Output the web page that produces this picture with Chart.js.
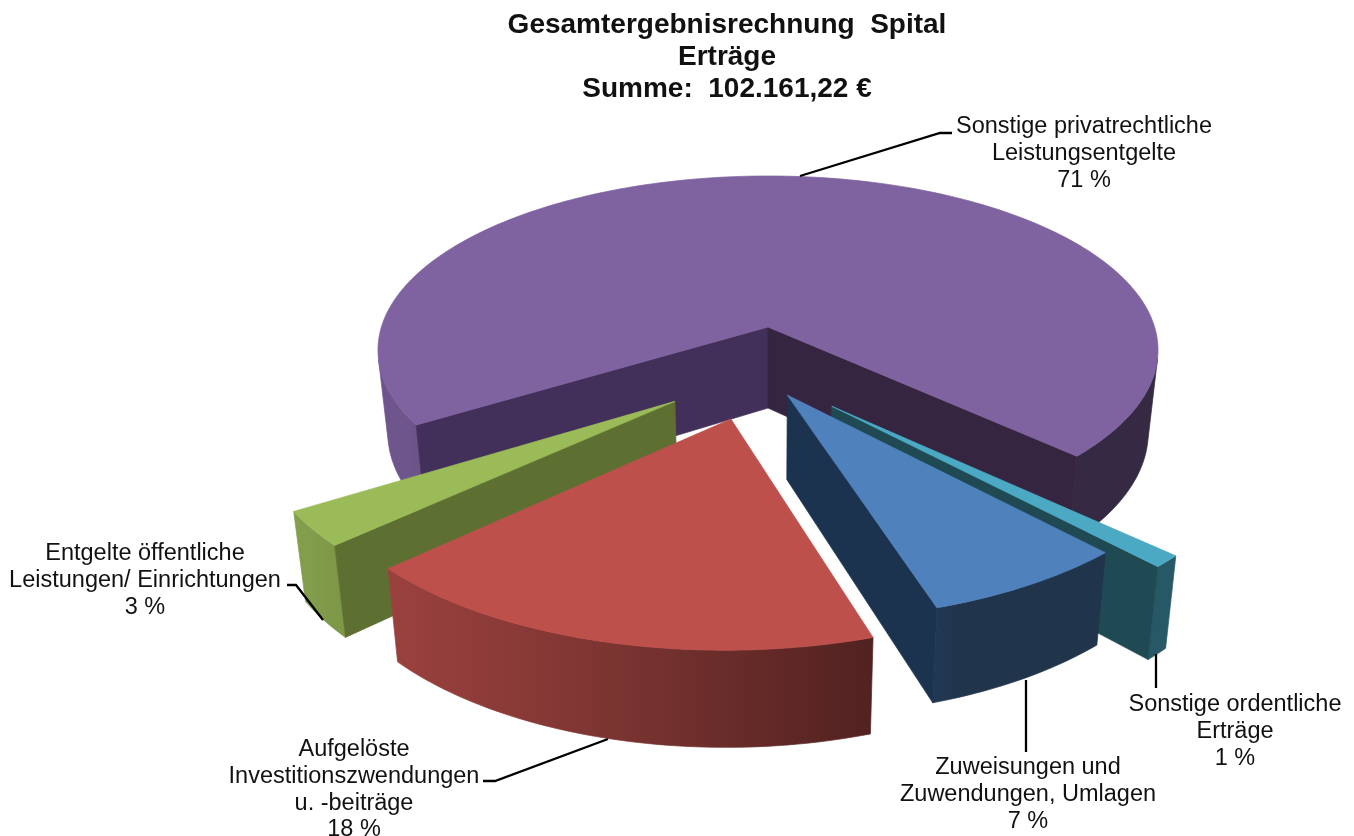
<!DOCTYPE html>
<html>
<head>
<meta charset="utf-8">
<title>Gesamtergebnisrechnung Spital</title>
<script src="https://cdn.jsdelivr.net/npm/chart.js@4/dist/chart.umd.min.js"></script>
<style>
  html, body { margin: 0; padding: 0; background: #fff; }
  #wrap { width: 1354px; height: 836px; }
</style>
</head>
<body>
<div id="wrap"><canvas id="pieChart"></canvas></div>
<script>
var titleLines = ["Gesamtergebnisrechnung  Spital", "Erträge", "Summe:  102.161,22 €"];
var categories = [
  "Sonstige privatrechtliche Leistungsentgelte",
  "Sonstige ordentliche Erträge",
  "Zuweisungen und Zuwendungen, Umlagen",
  "Aufgelöste Investitionszwendungen u. -beiträge",
  "Entgelte öffentliche Leistungen/ Einrichtungen"
];
var shares = [71, 1, 7, 18, 3];

// styles per slice
var topColors = ["#7F62A0", "#4BA9C4", "#4F81BD", "#BE504C", "#9BBB59"];
var wallStart = ["#42305A", "#1F4A54", "#1F3552", "#6E2A28", "#5E7031"];
var wallEnd = ["#362540", "#1F4A54", "#1C3350", "#521B18", "#5E7031"];
var rimFloor = [0.42, 0.52, 0.4, 0.43, 0.4]; // darkest shade of the outer wall
var rimScale = [1, 1.02, 1.02, 1.01, 1];
var explode = [25.6, 25.6, 14.3, 25.6, 25.6]; // hundredths of the radius

// the tilted view of the pie: a projection of the unit disc on the screen
var view = { x: 768, y: 327, a: 386.6, b: 171, k: 0.132, shiftU: -0.025, shiftV: 0.255, depth: 81 };

function project(u, v) {
  var w = 1 - view.k * v;
  return { x: view.x + view.a * u / w, y: view.y + view.b * v / w };
}

function below(p) {
  return {
    x: view.x + (p.x - view.x) * 0.975,
    y: p.y + view.depth + (p.y - view.y) * 0.05
  };
}

function shade(hex, f) {
  var n = parseInt(hex.slice(1), 16);
  var r = Math.round((n >> 16) * f);
  var g = Math.round(((n >> 8) & 255) * f);
  var b = Math.round((n & 255) * f);
  return "rgb(" + r + "," + g + "," + b + ")";
}

function fillPoly(ctx, pts, color) {
  ctx.beginPath();
  ctx.moveTo(pts[0].x, pts[0].y);
  for (var i = 1; i < pts.length; i++) ctx.lineTo(pts[i].x, pts[i].y);
  ctx.closePath();
  ctx.fillStyle = color;
  ctx.strokeStyle = color;
  ctx.lineWidth = 0.7;
  ctx.fill();
  ctx.stroke();
}

// only the faces turned to the viewer are drawn
function faces(p1, p2) {
  var q = [p1, p2, below(p2), below(p1)];
  var area = 0;
  for (var i = 0; i < 4; i++) {
    var a = q[i], b = q[(i + 1) % 4];
    area += a.x * b.y - b.x * a.y;
  }
  return area < 0;
}

function wall(ctx, p1, p2, color) {
  if (faces(p1, p2)) fillPoly(ctx, [p1, p2, below(p2), below(p1)], color);
}

// one stretch of the outer wall, shaded along x
function rimRun(ctx, run, i) {
  var first = run[0].p.x, last = run[run.length - 1].p.x;
  if (first == last) return;
  var grad = ctx.createLinearGradient(first, 0, last, 0);
  var pts = [];
  run.forEach(function(r, n) {
    var f = Math.max(rimFloor[i], Math.min(0.87, 0.54 - 0.37 * Math.cos(r.t)));
    grad.addColorStop(n / (run.length - 1), shade(topColors[i], f));
    pts.push(r.p);
  });
  for (var n = run.length - 1; n >= 0; n--) pts.push(below(run[n].p));
  fillPoly(ctx, pts, grad);
}

function drawSlice(ctx, el, i) {
  var start = el.startAngle, end = el.endAngle, mid = (start + end) / 2;
  var d = el.options.offset / 100;
  var cu = view.shiftU + d * Math.cos(mid);
  var cv = view.shiftV + d * Math.sin(mid);
  var apex = project(cu, cv);
  var steps = Math.max(4, Math.ceil((end - start) / 0.02));
  var rim = [], angles = [];
  for (var s = 0; s <= steps; s++) {
    var t = start + (end - start) * s / steps;
    angles.push(t);
    rim.push(project(cu + rimScale[i] * Math.cos(t), cv + rimScale[i] * Math.sin(t)));
  }
  var run = [];
  for (s = 0; s < steps; s++) {
    if (faces(rim[s], rim[s + 1])) {
      if (!run.length) run.push({ p: rim[s], t: angles[s] });
      run.push({ p: rim[s + 1], t: angles[s + 1] });
    } else if (run.length) {
      rimRun(ctx, run, i);
      run = [];
    }
  }
  if (run.length) rimRun(ctx, run, i);
  wall(ctx, apex, rim[0], wallStart[i]);
  wall(ctx, rim[steps], apex, wallEnd[i]);
  fillPoly(ctx, [apex].concat(rim), topColors[i]);
}

var pie3d = {
  id: "pie3d",
  beforeDatasetDraw: function(chart, args) {
    var ctx = chart.ctx;
    var arcs = args.meta.data;
    var order = arcs.map(function(el, i) { return i; });
    order.sort(function(a, b) {
      return Math.sin((arcs[a].startAngle + arcs[a].endAngle) / 2) -
             Math.sin((arcs[b].startAngle + arcs[b].endAngle) / 2);
    });
    ctx.save();
    order.forEach(function(i) { drawSlice(ctx, arcs[i], i); });
    ctx.restore();
    return false;
  }
};

// labels and leader lines
var labelLines = [
  { x: 1084, y: 127, text: ["Sonstige privatrechtliche", "Leistungsentgelte", "71 %"] },
  { x: 1235, y: 705, text: ["Sonstige ordentliche", "Erträge", "1 %"] },
  { x: 1028, y: 768, text: ["Zuweisungen und", "Zuwendungen, Umlagen", "7 %"] },
  { x: 354, y: 750, text: ["Aufgelöste", "Investitionszwendungen", "u. -beiträge", "18 %"] },
  { x: 145, y: 554, text: ["Entgelte öffentliche", "Leistungen/ Einrichtungen", "3 %"] }
];
var leaders = [
  [[952, 133], [940, 133], [800, 176]],
  [[1156, 654], [1156, 688]],
  [[1026, 680], [1026, 752]],
  [[483, 781], [495, 781], [608, 739]],
  [[287, 585], [296, 585], [323, 620]]
];

var pieLabels = {
  id: "pieLabels",
  afterDraw: function(chart) {
    var ctx = chart.ctx;
    ctx.save();
    ctx.strokeStyle = "#000";
    ctx.lineWidth = 2.3;
    leaders.forEach(function(pts) {
      ctx.beginPath();
      pts.forEach(function(p, i) {
        if (i == 0) ctx.moveTo(p[0], p[1]);
        else ctx.lineTo(p[0], p[1]);
      });
      ctx.stroke();
    });
    ctx.fillStyle = "#111";
    ctx.font = "23.5px 'Liberation Sans'";
    ctx.textAlign = "center";
    ctx.textBaseline = "middle";
    labelLines.forEach(function(l) {
      l.text.forEach(function(line, i) {
        ctx.fillText(line, l.x, l.y + i * 26.6);
      });
    });
    ctx.restore();
  }
};

var ctx = document.getElementById("pieChart").getContext("2d");
var chart = new Chart(ctx, {
  type: "pie",
  data: {
    labels: categories,
    datasets: [{
      data: shares,
      backgroundColor: topColors,
      borderWidth: 0,
      offset: explode
    }]
  },
  options: {
    responsive: true,
    maintainAspectRatio: false,
    animation: false,
    rotation: 237.8,
    layout: { padding: { left: 100 } },
    plugins: {
      legend: { display: false },
      tooltip: { enabled: false },
      title: {
        display: true,
        text: titleLines,
        color: "#111",
        font: { family: "'Liberation Sans'", size: 28, weight: "bold", lineHeight: 1.143 },
        padding: { top: 9, bottom: 0 }
      }
    }
  },
  plugins: [pie3d, pieLabels]
});
</script>
</body>
</html>
